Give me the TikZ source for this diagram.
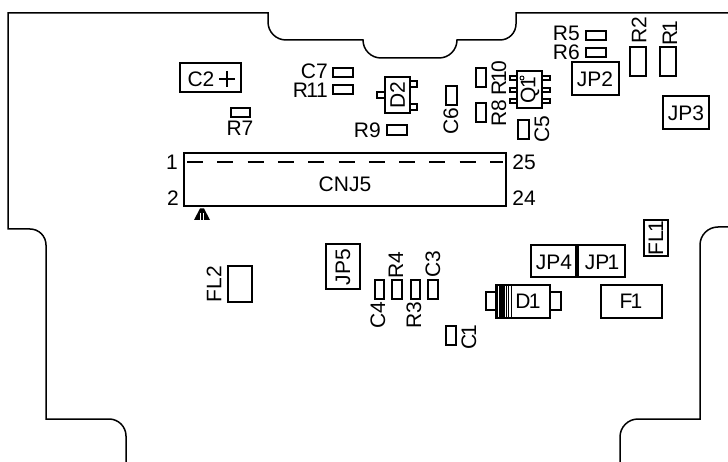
\documentclass[tikz,border=0pt]{standalone}
\usepackage{fontspec}
\setmainfont{Liberation Sans}
\newcommand\kn{\kern-1.8pt }
\begin{document}
\begin{tikzpicture}[x=1pt,y=-1pt,
  outline/.style={line width=1.5pt,line join=miter},
  part/.style={line width=1.25pt},
  lab/.style={inner sep=0pt,font=\fontsize{21}{21}\selectfont},
  labr/.style={lab,rotate=90}]
\useasboundingbox (0,0) rectangle (728,462);
% board outline
\draw[outline] (126,462) -- (126,436) arc[start angle=0,end angle=-90,radius=17] -- (46,419) -- (46,245)
  arc[start angle=0,end angle=-90,radius=16] -- (8,229) -- (8,13) -- (268,13) -- (268,22)
  arc[start angle=180,end angle=90,radius=18] -- (363,40) -- (363,40)
  arc[start angle=180,end angle=90,radius=18] -- (439,58)
  arc[start angle=90,end angle=0,radius=18] -- (500,40)
  arc[start angle=90,end angle=0,radius=16] -- (516,13) -- (728,13);
\draw[outline] (728,227) -- (718,227) arc[start angle=-90,end angle=-180,radius=18] -- (700,419) -- (638,419)
  arc[start angle=-90,end angle=-180,radius=18] -- (620,462);
% plain parts
\draw[part] (180,63) rectangle (241,92);
\draw[part] (219,79) -- (235,79) (227,71) -- (227,87);
\draw[part] (333,68) rectangle (353,77);
\draw[part] (333,85) rectangle (353,94);
\draw[part] (231,108) rectangle (250,117);
\draw[part] (586,31) rectangle (606,40);
\draw[part] (586,48) rectangle (606,57);
\draw[part] (630,47) rectangle (646,76);
\draw[part] (660,47) rectangle (676,76);
\draw[part] (572,62) rectangle (619,95);
\draw[part] (663,96) rectangle (709,129);
\draw[part] (387,125) rectangle (407,135);
\draw[part] (446,86) rectangle (457,105);
\draw[part] (476,68) rectangle (486,87);
\draw[part] (476,103) rectangle (486,122);
\draw[part] (518,120) rectangle (529,139);
\draw[part] (644,220) rectangle (668,256);
\draw[part] (531,245) rectangle (576,277);
\draw[part] (578,245) rectangle (625,277);
\draw[part] (601,285) rectangle (662,318);
\draw[part] (375,280) rectangle (384,299);
\draw[part] (392,280) rectangle (402,299);
\draw[part] (411,280) rectangle (420,299);
\draw[part] (428,280) rectangle (438,299);
\draw[part] (446,326) rectangle (456,345);
\draw[part] (228,266) rectangle (252,302);
\draw[part] (326,244) rectangle (360,289);
% D2
\draw[part] (385,77) rectangle (410,113);
\draw[part] (385,92) -- (377,92) -- (377,98) -- (385,98);
\draw[part] (410,81) -- (417,81) -- (417,87) -- (410,87);
\draw[part] (410,104) -- (417,104) -- (417,110) -- (410,110);
% Q1
\draw[part] (517,71) rectangle (542,108);
\foreach \py in {76,88,99}{
  \draw[part] (517,\py) -- (510,\py) -- (510,\py+4) -- (517,\py+4);
  \draw[part] (542,\py) -- (550,\py) -- (550,\py+4) -- (542,\py+4);
}
\draw[line width=0.9pt] (522,78) circle[radius=2];
% D1
\draw[part] (496,285) rectangle (550,318);
\draw[part] (496,292) -- (486,292) -- (486,310) -- (496,310);
\draw[part] (550,292) -- (561,292) -- (561,310) -- (550,310);
\fill (499,285) rectangle (505,318);
\foreach \bx in {497,506.5,508.5,511}{\draw[line width=0.8pt] (\bx,285) -- (\bx,318);}
% CNJ5
\draw[part] (184,153) rectangle (506,206);
\draw[line width=1.25pt,dash pattern=on 16pt off 14.3pt] (187,162) -- (503,162);
% pin-1 marker
\fill (200,208.5) -- (194,220) -- (210,220) -- (204,208.5) -- cycle;
\draw[white,line width=0.25pt] (200.5,213) -- (200.5,220) (203.5,213) -- (203.5,220);
% labels
\node[lab] (lC2) at (201,79) {C2};
\node[lab,anchor=east] (lC7) at (328,71.5) {C7};
\node[lab,anchor=east] (lR11) at (328,90.5) {R\kn1\kn1};
\node[lab] (lR7) at (240,128) {R7};
\node[lab,anchor=east] (lR5) at (580,33) {R5};
\node[lab,anchor=east] (lR6) at (580,52) {R6};
\node[labr] (lR2) at (639,30) {R2};
\node[labr] (lR1) at (670,33) {R\kn1};
\node[lab] (lJP2) at (595,79) {JP2};
\node[lab] (lJP3) at (686,113) {JP3};
\node[labr] (lD2) at (397.5,95) {D2};
\node[lab,anchor=east] (lR9) at (381,130) {R9};
\node[labr] (lC6) at (451,121) {C6};
\node[labr] (lR10) at (499,78) {R\kn1\kn0};
\node[labr] (lR8) at (499,113) {R8};
\node[labr] (lQ1) at (530,90) {Q\kn1};
\node[labr] (lC5) at (542,129) {C5};
\node[labr] (lFL1) at (656,238) {FL\kn1};
\node[lab] (lJP4) at (554,262) {JP4};
\node[lab] (lJP1) at (602,262) {JP\kn1};
\node[lab] (lF1) at (631,301) {F\kn1};
\node[lab] (lD1) at (528,301) {D\kn1};
\node[labr] (lC4) at (378,315) {C4};
\node[labr] (lR4) at (396,265) {R4};
\node[labr] (lR3) at (414,315) {R3};
\node[labr] (lC3) at (433,264) {C3};
\node[labr] (lC1) at (469,337) {C\kn1};
\node[labr] (lFL2) at (214,284) {FL2};
\node[labr] (lJP5) at (343,267) {JP5};
\node[lab] (lCNJ5) at (345,184) {CNJ5};
\node[lab] (l1) at (172,162) {1};
\node[lab] (l2) at (173,198) {2};
\node[lab] (l25) at (524,162) {25};
\node[lab] (l24) at (524,198) {24};
\end{tikzpicture}
\end{document}
